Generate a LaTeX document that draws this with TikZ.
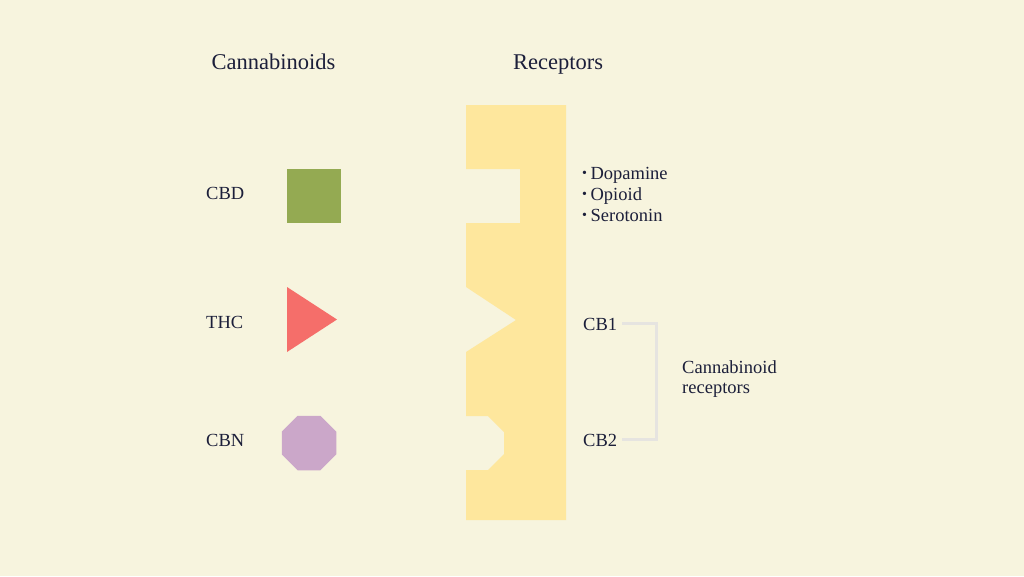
\documentclass[tikz,border=0pt]{standalone}
\usepackage{fontspec}
\setmainfont{Liberation Serif}
\usetikzlibrary{shapes, positioning}

\definecolor{bgcream}{HTML}{F7F4DE}
\definecolor{inkblue}{HTML}{1C1F3A}
\definecolor{receptoryellow}{HTML}{FEE79D}
\definecolor{cbdgreen}{HTML}{94AA52}
\definecolor{thcred}{HTML}{F56E6A}
\definecolor{cbnpurple}{HTML}{CBA7C9}
\definecolor{bracketgrey}{HTML}{E6E4E0}

\newcommand{\smalldot}{{\fontsize{14}{14}\selectfont\raisebox{0.2ex}{•}}\kern3.5pt}

\begin{document}
\begin{tikzpicture}[x=1pt, y=-1pt, node distance=21pt,
    lbl/.style={anchor=base west, inner sep=0pt, text=inkblue, font=\fontsize{18.5}{20}\selectfont},
    head/.style={anchor=base, inner sep=0pt, text=inkblue, font=\fontsize{22.5}{26}\selectfont},
    molecule/.style={inner sep=0pt, draw=none},
    bracket/.style={draw=bracketgrey, line width=3pt}]
        \fill[bgcream] (0,0) rectangle (1024,576);

        % headings
        \node[head] (cannabinoids) at (273.5,69) {Cannabinoids};
        \node[head] (receptors) at (558,69) {Receptors};

        % cannabinoids
        \node[lbl] (cbd) at (206,199) {CBD};
        \node[lbl] (thc) at (206,328) {THC};
        \node[lbl] (cbn) at (206,446) {CBN};

        \node[molecule, fill=cbdgreen, minimum size=54pt] (square) at (313.5,196) {};
        \fill[thcred] (287,287) coordinate (thctop) -- (337,319.5) coordinate (thctip)
            -- (287,352) coordinate (thcbot) -- cycle;
        \node[molecule, regular polygon, regular polygon sides=8, fill=cbnpurple,
            minimum size=59pt] (octagon) at (309,443) {};

        % receptor block
        \fill[receptoryellow] (466,105) -- (566,105) -- (566,520) -- (466,520)
            -- (466,470) -- (488,470) -- (504,454) -- (504,432) -- (488,416) -- (466,416)
            -- (466,352) -- (516,320) -- (466,287)
            -- (466,223) -- (520,223) -- (520,169) -- (466,169) -- cycle;

        % receptor labels
        \node[lbl] (dopamine) at (582,179) {\smalldot Dopamine};
        \node[lbl, below=of dopamine.base west, anchor=base west] (opioid) {\smalldot Opioid};
        \node[lbl, below=of opioid.base west, anchor=base west] (serotonin) {\smalldot Serotonin};

        \node[lbl] (cb1) at (583,330) {CB1};
        \node[lbl] (cb2) at (583,446) {CB2};
        \node[lbl, anchor=west, align=left] (cbrec) at (682,379) {Cannabinoid\\receptors};

        \draw[bracket] ([xshift=5pt]cb1.east) -- ++(34,0) coordinate (bend) |- ([xshift=5pt]cb2.east);
    \end{tikzpicture}
\end{document}
